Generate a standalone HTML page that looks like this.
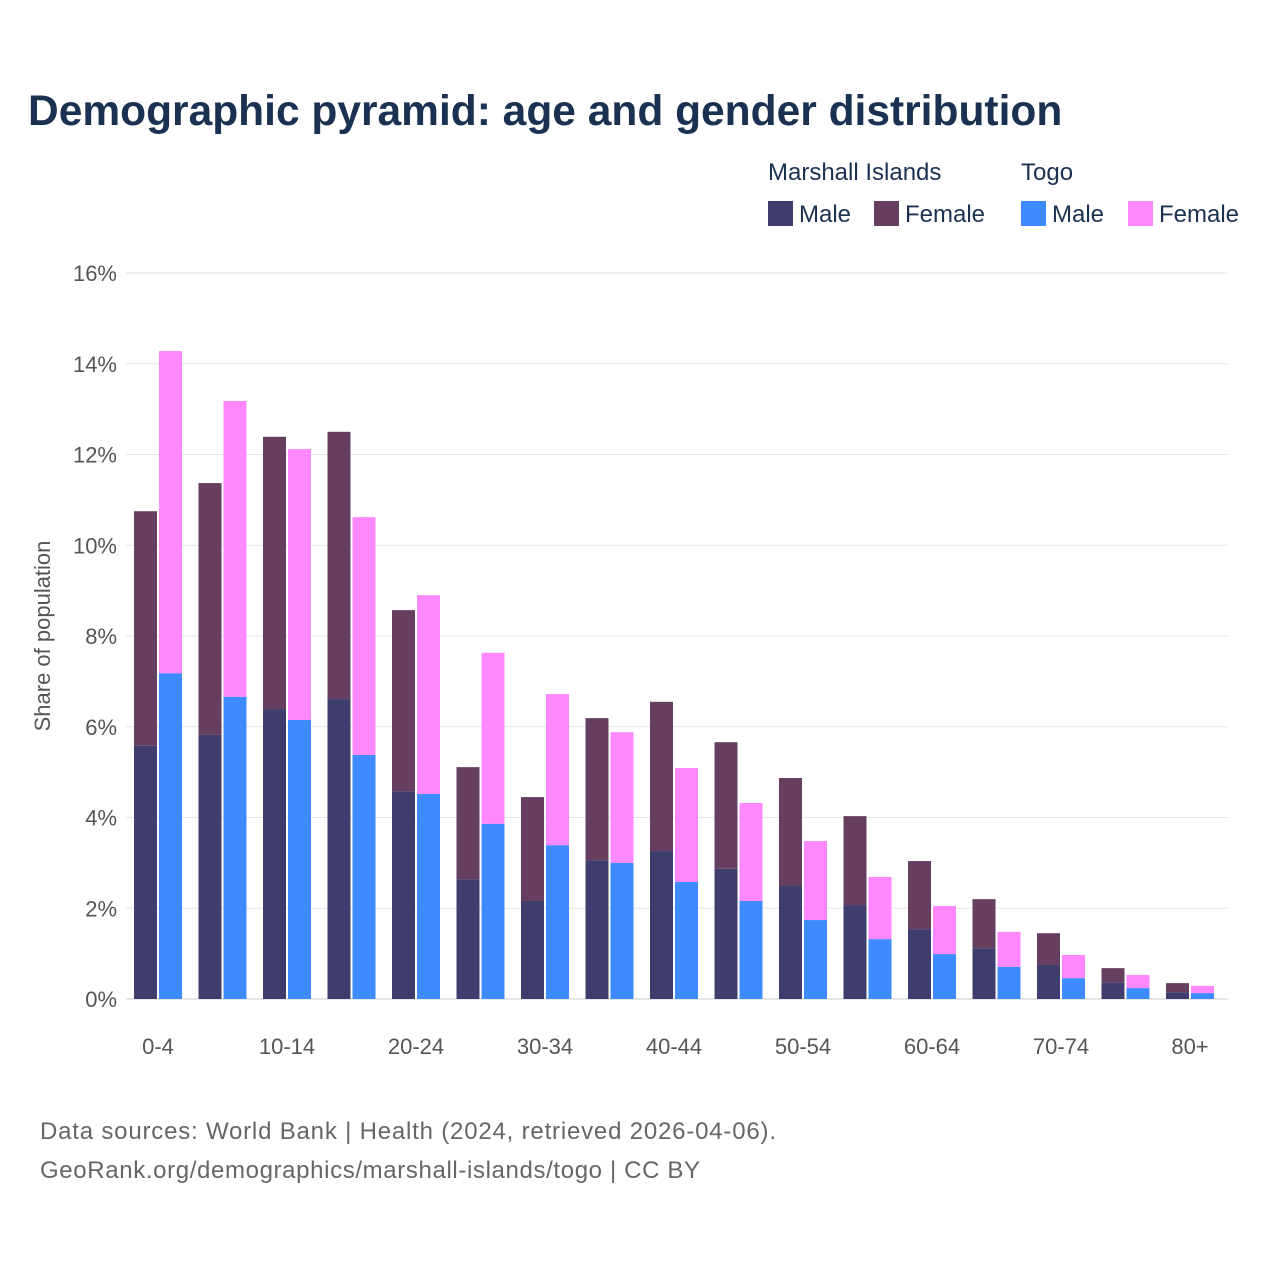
<!DOCTYPE html>
<html><head><meta charset="utf-8"><style>
html,body{margin:0;padding:0;background:#fff;}
svg{display:block;font-family:"Liberation Sans",sans-serif;}
</style></head><body>
<svg id="chart" width="1280" height="1280" viewBox="0 0 1280 1280" xmlns="http://www.w3.org/2000/svg">
<rect width="1280" height="1280" fill="#fff"/>
<text x="28" y="125" font-size="42.5" font-weight="bold" fill="#1b3152">Demographic pyramid: age and gender distribution</text>
<g font-size="24" fill="#1b3152">
<text x="768" y="180">Marshall Islands</text>
<text x="1021" y="180">Togo</text>
<rect x="768" y="201" width="25" height="25" fill="#3f3d6e"/>
<text x="799" y="222">Male</text>
<rect x="874" y="201" width="25" height="25" fill="#663f60"/>
<text x="905" y="222">Female</text>
<rect x="1021" y="201" width="25" height="25" fill="#3d8bff"/>
<text x="1052" y="222">Male</text>
<rect x="1128" y="201" width="25" height="25" fill="#ff88ff"/>
<text x="1159" y="222">Female</text>
</g>
<g id="grid"></g>
<g id="bars"></g>
<g id="xlabels"></g>
<text transform="translate(50,636) rotate(-90)" text-anchor="middle" font-size="22" fill="#555">Share of population</text>
<text x="40" y="1139" font-size="24" fill="#666" textLength="736">Data sources: World Bank | Health (2024, retrieved 2026-04-06).</text>
<text x="40" y="1178" font-size="24" fill="#666" textLength="660">GeoRank.org/demographics/marshall-islands/togo | CC BY</text>
</svg>
<script>
const categories = ["0-4","5-9","10-14","15-19","20-24","25-29","30-34","35-39","40-44","45-49","50-54","55-59","60-64","65-69","70-74","75-79","80+"];
const miMale   = [5.58,5.82,6.39,6.61,4.58,2.64,2.16,3.06,3.26,2.87,2.49,2.07,1.54,1.12,0.75,0.37,0.15];
const miFemale = [5.17,5.55,6.00,5.89,3.99,2.47,2.29,3.13,3.29,2.79,2.38,1.96,1.50,1.08,0.70,0.31,0.20];
const tgMale   = [7.18,6.66,6.15,5.38,4.52,3.86,3.39,3.00,2.58,2.16,1.74,1.32,0.99,0.71,0.46,0.24,0.13];
const tgFemale = [7.10,6.52,5.97,5.24,4.38,3.77,3.33,2.88,2.51,2.16,1.74,1.37,1.06,0.77,0.51,0.29,0.16];
const yTicks = [0,2,4,6,8,10,12,14,16];
const NS="http://www.w3.org/2000/svg";
const x0=126, x1=1228, step=64.5;
const y=v=>999-v*45.375;
const cx=i=>158+step*i;
function mk(tag,attrs,parent){const e=document.createElementNS(NS,tag);for(const k in attrs)e.setAttribute(k,attrs[k]);parent.appendChild(e);return e;}
const grid=document.getElementById('grid');
yTicks.forEach(t=>{
  const l=mk('line',{x1:x0,x2:x1,y1:y(t),y2:y(t),stroke:t===0?'#ccc':'#e6e6e6','stroke-width':1},grid);
  
  
  const tx=mk('text',{x:117,y:y(t)+8,'text-anchor':'end','font-size':22,fill:'#555'},grid);
  tx.textContent=t+'%';
  
  
});
const bars=document.getElementById('bars');
const w=23;
categories.forEach((c,i)=>{
  const c0=cx(i);
  const stacks=[[c0-24,miMale[i],miFemale[i],'#3f3d6e','#663f60','mi'],[c0+1,tgMale[i],tgFemale[i],'#3d8bff','#ff88ff','togo']];
  stacks.forEach(s=>{
    const m=mk('rect',{x:s[0],y:y(s[1]),width:w,height:y(0)-y(s[1]),fill:s[3]},bars);
    
    
    const f=mk('rect',{x:s[0],y:y(s[1]+s[2]),width:w,height:y(s[1])-y(s[1]+s[2]),fill:s[4]},bars);
    
    
  });
  if(i%2===0){
    const t=mk('text',{x:c0,y:1054,'text-anchor':'middle','font-size':22,fill:'#555'},document.getElementById('xlabels'));
    t.textContent=c;
    
    
  }
});
</script>
</body></html>
